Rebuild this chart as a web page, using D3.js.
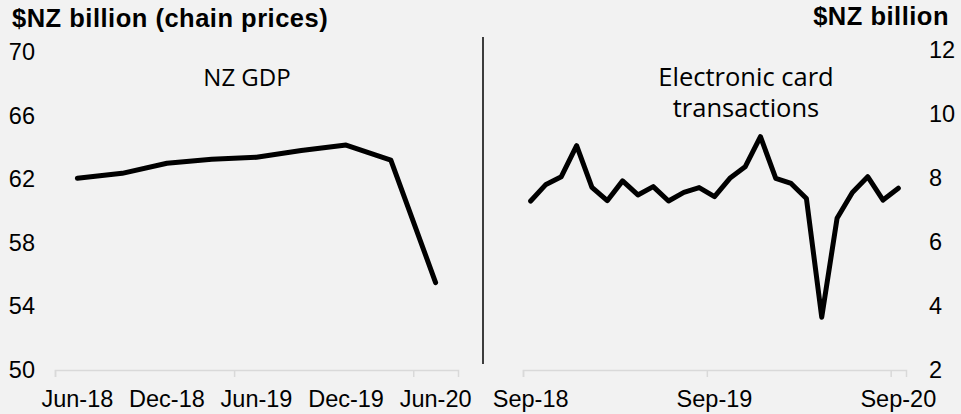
<!DOCTYPE html>
<html>
<head>
<meta charset="utf-8">
<script src="https://cdn.jsdelivr.net/npm/d3@7"></script>
<style>
  body { margin: 0; background: #f2f2f2; }
  svg { display: block; }
</style>
</head>
<body>
<div id="chart"></div>
<script>
// quarterly GDP, $NZ billion (chain prices)
var gdpQuarters = ["Jun-18", "Sep-18", "Dec-18", "Mar-19", "Jun-19", "Sep-19", "Dec-19", "Mar-20", "Jun-20"];
var gdpValues = [62.06, 62.37, 63.0, 63.25, 63.38, 63.8, 64.15, 63.2, 55.5];
var gdpTicks = [50, 54, 58, 62, 66, 70];

// monthly electronic card transactions, $NZ billion
var ectMonths = ["Sep-18", "Oct-18", "Nov-18", "Dec-18", "Jan-19", "Feb-19", "Mar-19", "Apr-19", "May-19",
  "Jun-19", "Jul-19", "Aug-19", "Sep-19", "Oct-19", "Nov-19", "Dec-19", "Jan-20", "Feb-20", "Mar-20",
  "Apr-20", "May-20", "Jun-20", "Jul-20", "Aug-20", "Sep-20"];
var ectValues = [7.28, 7.80, 8.04, 9.01, 7.71, 7.29, 7.91, 7.47, 7.73, 7.28, 7.55, 7.70, 7.42,
  7.99, 8.35, 9.29, 7.99, 7.83, 7.36, 3.65, 6.74, 7.55, 8.04, 7.31, 7.68];
var ectTicks = [2, 4, 6, 8, 10, 12];

var W = 961, H = 414;
var tickFont = "'Liberation Sans', Arial, sans-serif";
var noteFont = "'Open Sans', 'Noto Sans', sans-serif";

var svg = d3.select("#chart").append("svg")
  .attr("width", W)
  .attr("height", H);

svg.append("rect").attr("width", W).attr("height", H).attr("fill", "#f2f2f2");

// draws one panel: line, category axis with grouped tick marks
function panel(cfg) {
  var x = d3.scaleBand()
    .domain(d3.range(cfg.labels.length))
    .range(cfg.xRange)
    .padding(0);

  var edge = d3.scaleLinear()
    .domain([0, cfg.labels.length])
    .range(cfg.xRange);

  var y = d3.scaleLinear()
    .domain(cfg.yDomain)
    .range(cfg.yRange);

  var g = svg.append("g");

  // tick marks between category groups
  g.append("g")
    .attr("transform", "translate(0," + cfg.yRange[0] + ")")
    .call(d3.axisBottom(edge).tickValues(cfg.markEvery).tickSize(7).tickFormat(""))
    .call(function(a) {
      a.select(".domain").attr("stroke", "#d9d9d9").attr("stroke-width", 1.5);
      a.selectAll(".tick line").attr("stroke", "#d9d9d9").attr("stroke-width", 1.5);
    });

  // category labels
  g.append("g")
    .attr("transform", "translate(0," + cfg.yRange[0] + ")")
    .call(d3.axisBottom(x).tickValues(cfg.labelEvery).tickSize(0).tickPadding(20)
      .tickFormat(function(i) { return cfg.labels[i]; }))
    .call(function(a) {
      a.select(".domain").remove();
      a.selectAll("text").attr("fill", "#000").style("font-family", tickFont).style("font-size", "23.5px");
    });

  // value axis
  var yAxis = cfg.right ? d3.axisRight(y) : d3.axisLeft(y);
  g.append("g")
    .attr("transform", "translate(" + cfg.yAxisX + ",0)")
    .call(yAxis.tickValues(cfg.ticks).tickSize(0).tickPadding(0))
    .call(function(a) {
      a.select(".domain").remove();
      a.selectAll("text").attr("fill", "#000").style("font-family", tickFont).style("font-size", "23.5px");
    });

  var line = d3.line()
    .x(function(d, i) { return x(i) + x.bandwidth() / 2; })
    .y(function(d) { return y(d); });

  g.append("path")
    .datum(cfg.values)
    .attr("d", line)
    .attr("fill", "none")
    .attr("stroke", "#000")
    .attr("stroke-width", 5)
    .attr("stroke-linejoin", "round")
    .attr("stroke-linecap", "round");
}

panel({
  labels: gdpQuarters,
  values: gdpValues,
  ticks: gdpTicks,
  xRange: [55, 458],
  yDomain: [50, 70],
  yRange: [370, 52],
  yAxisX: 35,
  markEvery: [0, 4, 8],
  labelEvery: [0, 2, 4, 6, 8],
  right: false
});

panel({
  labels: ectMonths,
  values: ectValues,
  ticks: ectTicks,
  xRange: [523, 906],
  yDomain: [2, 12],
  yRange: [370, 50],
  yAxisX: 929,
  markEvery: [0, 12, 24],
  labelEvery: [0, 12, 24],
  right: true
});

// divider between the two panels
svg.append("line")
  .attr("x1", 483).attr("x2", 483)
  .attr("y1", 37).attr("y2", 364)
  .attr("stroke", "#000")
  .attr("stroke-width", 1.5);

// titles
svg.append("text")
  .attr("x", 12).attr("y", 27)
  .style("font-family", tickFont).style("font-size", "25.5px").style("font-weight", "bold")
  .style("letter-spacing", "0.5px")
  .text("$NZ billion (chain prices)");

svg.append("text")
  .attr("x", 949).attr("y", 25)
  .attr("text-anchor", "end")
  .style("font-family", tickFont).style("font-size", "25.5px").style("font-weight", "bold")
  .style("letter-spacing", "0.5px")
  .text("$NZ billion");

// series notes
svg.append("text")
  .attr("x", 247).attr("y", 86)
  .attr("text-anchor", "middle")
  .style("font-family", noteFont).style("font-size", "24px")
  .text("NZ GDP");

var note = svg.append("text")
  .attr("text-anchor", "middle")
  .style("font-family", noteFont).style("font-size", "25.5px");
note.append("tspan").attr("x", 746).attr("y", 86).text("Electronic card");
note.append("tspan").attr("x", 746).attr("y", 117).text("transactions");
</script>
</body>
</html>
